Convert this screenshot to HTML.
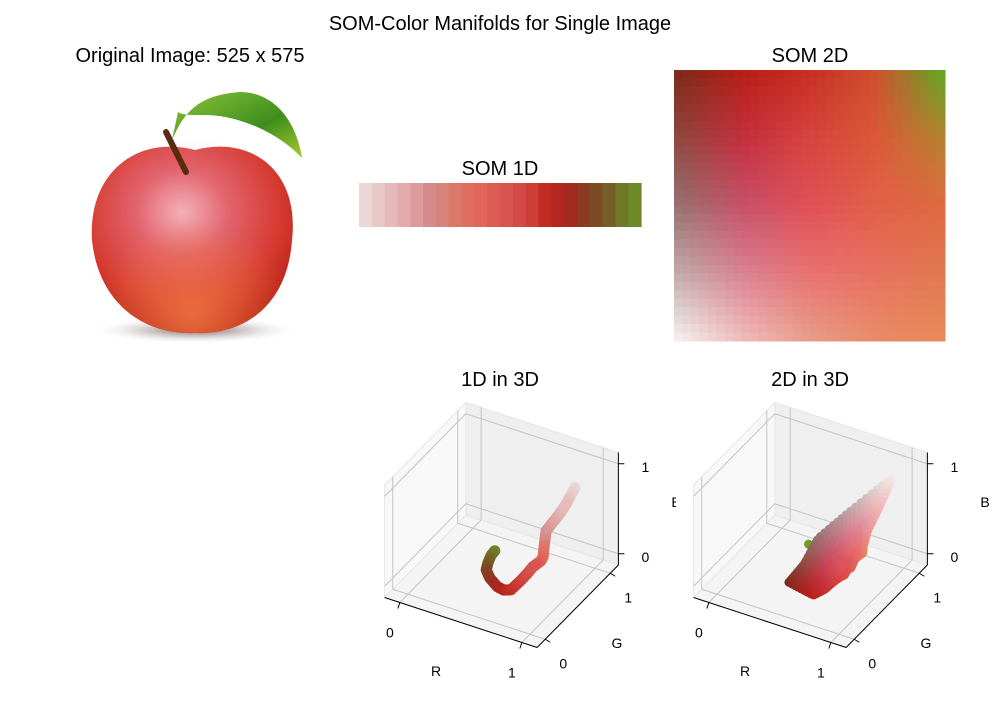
<!DOCTYPE html>
<html><head><meta charset="utf-8"><style>
html,body{margin:0;padding:0;background:#fff}
svg text{font-family:"Liberation Sans",sans-serif;fill:#000}
</style></head><body>
<svg id="fig" width="1000" height="700" viewBox="0 0 1000 700" xmlns="http://www.w3.org/2000/svg">
<defs>
<radialGradient id="appleG" cx="0.45" cy="0.35" r="0.65">
<stop offset="0" stop-color="#f4b0b8"/><stop offset="0.35" stop-color="#e2646e"/><stop offset="0.75" stop-color="#d63a30"/><stop offset="1" stop-color="#b82418"/></radialGradient>
<radialGradient id="appleLow" cx="0.5" cy="0.9" r="0.5"><stop offset="0" stop-color="#f07a40" stop-opacity="0.8"/><stop offset="1" stop-color="#f07a40" stop-opacity="0"/></radialGradient>
<radialGradient id="shadowG" cx="0.5" cy="0.5" r="0.5"><stop offset="0" stop-color="#5a4040"/><stop offset="1" stop-color="#fff" stop-opacity="0"/></radialGradient>
<radialGradient id="glowG" cx="0.5" cy="0.5" r="0.5"><stop offset="0.7" stop-color="#f8c8cc"/><stop offset="1" stop-color="#fff" stop-opacity="0"/></radialGradient>
<linearGradient id="leafG" x1="0" y1="0" x2="1" y2="1"><stop offset="0" stop-color="#8cc43a"/><stop offset="0.6" stop-color="#3e8e1e"/><stop offset="1" stop-color="#a8c82a"/></linearGradient>
<clipPath id="clipL"><rect x="340" y="360" width="336" height="340"/></clipPath>
</defs>
<text x="500" y="30" font-size="20" text-anchor="middle">SOM-Color Manifolds for Single Image</text>
<text x="190" y="62" font-size="20" text-anchor="middle">Original Image: 525 x 575</text>
<text x="500" y="175" font-size="20" text-anchor="middle">SOM 1D</text>
<text x="810" y="62" font-size="20" text-anchor="middle">SOM 2D</text>
<text x="500" y="386" font-size="20" text-anchor="middle">1D in 3D</text>
<text x="810" y="386" font-size="20" text-anchor="middle">2D in 3D</text>
<g>
<ellipse cx="195" cy="330" rx="105" ry="14" fill="url(#shadowG)"/>
<ellipse cx="192" cy="238" rx="112" ry="105" fill="url(#glowG)" opacity="0.5"/>
<path d="M195,150 C250,135 300,170 292,240 C288,300 250,335 195,333 C140,335 98,300 92,240 C88,170 140,135 195,150 Z" fill="url(#appleG)"/>
<path d="M195,150 C250,135 300,170 292,240 C288,300 250,335 195,333 C140,335 98,300 92,240 C88,170 140,135 195,150 Z" fill="url(#appleLow)"/>
<path d="M166,132 L186,172" stroke="#5a2a10" stroke-width="6" stroke-linecap="round"/>
<path d="M172,140 C185,110 200,95 240,92 C270,92 295,115 302,158 C285,140 260,125 230,118 C205,112 188,118 178,112 Z" fill="url(#leafG)"/>
</g>
<g id="som1d"></g>
<g id="som2d"></g>
<g id="ax3dL" clip-path="url(#clipL)"></g>
<g id="ax3dR"></g>
</svg>
<script>
const som1dColors = ["#ead8d8","#e8caca","#e6baba","#e2acac","#dc9c9c","#d68c8c","#d8847a","#dc786a","#e06e5e","#e06658","#dc5c54","#d85450","#d44a46","#cc3e36","#c02c22","#b42620","#a42a20","#8c3a22","#7c4a26","#746026","#6e7828","#6c8a26"];
const som2dAnchorRow0 = ["#802a1c","#b82018","#c83024","#d05030","#68a424"];
const som2dAnchorRow1 = ["#904840","#c43040","#d84440","#dc5838","#b88030"];
const som2dAnchorRow2 = ["#987070","#c85068","#e05058","#e06048","#e06840"];
const som2dAnchorRow3 = ["#c0a8a8","#d88090","#e87070","#e87060","#e07850"];
const som2dAnchorRow4 = ["#f2eceb","#f0b8b8","#e89a88","#e88a68","#e88858"];
const axisTicks = [0, 1];
const axisNames = ["R","G","B"];

const NS = "http://www.w3.org/2000/svg";
function mk(tag, attrs, parent){const e=document.createElementNS(NS,tag);for(const k in attrs)e.setAttribute(k,attrs[k]);parent.appendChild(e);return e;}
function hex2rgb(h){return [parseInt(h.slice(1,3),16)/255,parseInt(h.slice(3,5),16)/255,parseInt(h.slice(5,7),16)/255];}
function rgb2hex(c){return "#"+c.map(v=>Math.round(Math.max(0,Math.min(1,v))*255).toString(16).padStart(2,"0")).join("");}
function lerp(a,b,t){return a.map((v,i)=>v+(b[i]-v)*t);}

// SOM 1D strip
const s1 = document.getElementById("som1d");
const x0=359,x1=641,yT=183,yB=227, cw=(x1-x0)/som1dColors.length;
som1dColors.forEach((c,i)=>{
  const r=mk("rect",{x:x0+i*cw,y:yT,width:cw+0.6,height:yB-yT,fill:c},s1);
  
  
});

// SOM 2D grid (bilinear upsampling of anchor colours)
const N=32, anchors=[som2dAnchorRow0,som2dAnchorRow1,som2dAnchorRow2,som2dAnchorRow3,som2dAnchorRow4].map(r=>r.map(hex2rgb));
const A=anchors.length-1;
function grid(u,v){
  const fu=u*A, fv=v*A; const iu=Math.min(A-1,Math.floor(fu)), iv=Math.min(A-1,Math.floor(fv));
  const tu=fu-iu, tv=fv-iv;
  const top=lerp(anchors[iv][iu],anchors[iv][iu+1],tu), bot=lerp(anchors[iv+1][iu],anchors[iv+1][iu+1],tu);
  return lerp(top,bot,tv);
}
const s2=document.getElementById("som2d");
const gx0=674,gy0=70,gs=271/N;
const gridColors=[];
for(let j=0;j<N;j++)for(let i=0;i<N;i++){
  const c=grid(i/(N-1),j/(N-1)); gridColors.push(c);
  const r=mk("rect",{x:gx0+i*gs,y:gy0+j*gs,width:gs+0.5,height:gs+0.5,fill:rgb2hex(c)},s2);
  
  
}

// 3D axes
const lo=-0.125, hi=1.125;
function makeP(dx){return (r,g,b)=>[408+dx+r*122+g*65, 583+r*40-g*66-b*90];}
function poly(pts,attrs,parent){return mk("polygon",Object.assign({points:pts.map(p=>p.join(",")).join(" ")},attrs),parent);}
function line(a,b,attrs,parent){return mk("line",Object.assign({x1:a[0],y1:a[1],x2:b[0],y2:b[1]},attrs),parent);}
function drawAxes(g,dx,points,rad){
  const P=makeP(dx);
  const floor=poly([P(lo,lo,lo),P(hi,lo,lo),P(hi,hi,lo),P(lo,hi,lo)],{fill:"#f4f4f4",stroke:"#e6e6e6"},g);
  
  const lw=poly([P(lo,lo,lo),P(lo,hi,lo),P(lo,hi,hi),P(lo,lo,hi)],{fill:"#f8f8f8",stroke:"#e6e6e6"},g);
  
  const bw=poly([P(lo,hi,lo),P(hi,hi,lo),P(hi,hi,hi),P(lo,hi,hi)],{fill:"#efefef",stroke:"#e6e6e6"},g);
  
  const gs={stroke:"#c4c4c4","stroke-width":1};
  axisTicks.forEach(t=>{
    let l=line(P(t,lo,lo),P(t,hi,lo),gs,g); 
    l=line(P(t,hi,lo),P(t,hi,hi),gs,g); 
    l=line(P(lo,t,lo),P(hi,t,lo),gs,g); 
    l=line(P(lo,t,lo),P(lo,t,hi),gs,g); 
    l=line(P(lo,lo,t),P(lo,hi,t),gs,g); 
    l=line(P(lo,hi,t),P(hi,hi,t),gs,g); 
  });
  const ax={stroke:"#000","stroke-width":1};
  let a=line(P(lo,lo,lo),P(hi,lo,lo),ax,g); 
  a=line(P(hi,lo,lo),P(hi,hi,lo),ax,g); 
  a=line(P(hi,hi,lo),P(hi,hi,hi),ax,g); 
  axisTicks.forEach(t=>{
    let p=P(t,lo,lo); let tk=line(p,[p[0]-2,p[1]+6],ax,g); 
    let tx=mk("text",{x:p[0]-10,y:p[1]+35,"font-size":14,"text-anchor":"middle"},g); tx.textContent=t;
    
    p=P(hi,t,lo); tk=line(p,[p[0]+5,p[1]+3],ax,g); 
    tx=mk("text",{x:p[0]+18,y:p[1]+29,"font-size":14,"text-anchor":"middle"},g); tx.textContent=t;
    
    p=P(hi,hi,t); tk=line(p,[p[0]+6,p[1]],ax,g); 
    tx=mk("text",{x:p[0]+27,y:p[1]+8,"font-size":14,"text-anchor":"middle"},g); tx.textContent=t;
    
  });
  let lb=mk("text",{x:436+dx,y:676,"font-size":14,"text-anchor":"middle"},g); lb.textContent=axisNames[0];
  
  lb=mk("text",{x:617+dx,y:648,"font-size":14,"text-anchor":"middle"},g); lb.textContent=axisNames[1];
  
  lb=mk("text",{x:676+dx,y:507,"font-size":14,"text-anchor":"middle"},g); lb.textContent=axisNames[2];
  
  // far points first
  const sorted=points.slice().sort((p,q)=>(p[0]-p[1]+0.8*p[2])-(q[0]-q[1]+0.8*q[2]));
  sorted.forEach(c=>{
    const p=P(c[0],c[1],c[2]);
    const d=mk("circle",{cx:p[0],cy:p[1],r:rad,fill:rgb2hex(c)},g);
    
    
  });
}
// 1D: densify along the chain so the marker trail looks continuous
const c1=som1dColors.map(hex2rgb), dense=[];
for(let i=0;i<c1.length-1;i++){for(let k=0;k<8;k++)dense.push(lerp(c1[i],c1[i+1],k/8));}
dense.push(c1[c1.length-1]);
drawAxes(document.getElementById("ax3dL"),0,dense,5.5);
drawAxes(document.getElementById("ax3dR"),309,gridColors,4.5);
</script>
</body></html>
